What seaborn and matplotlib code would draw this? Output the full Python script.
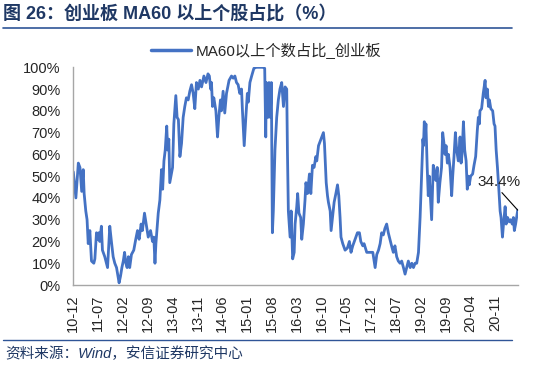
import matplotlib
matplotlib.use("Agg")
import matplotlib.pyplot as plt
from matplotlib.lines import Line2D
import pandas as pd
import seaborn as sns

# 创业板 MA60 以上个股占比 (%)
dates = [
    "2010-12-01", "2010-12-23", "2011-01-13", "2011-01-27", "2011-02-11", "2011-02-24",
    "2011-03-04", "2011-03-18", "2011-03-29", "2011-04-08", "2011-04-22", "2011-04-28",
    "2011-05-06", "2011-05-26", "2011-06-04", "2011-06-18", "2011-06-26", "2011-07-08",
    "2011-07-16", "2011-07-30", "2011-08-08", "2011-08-28", "2011-09-21", "2011-09-29",
    "2011-10-10", "2011-10-24", "2011-11-08", "2011-11-22", "2011-12-07", "2011-12-29",
    "2012-01-10", "2012-01-22", "2012-02-03", "2012-02-14", "2012-02-25", "2012-03-07",
    "2012-03-18", "2012-03-29", "2012-04-13", "2012-05-03", "2012-05-20", "2012-06-04",
    "2012-06-18", "2012-07-05", "2012-07-16", "2012-08-03", "2012-08-20", "2012-09-04",
    "2012-09-24", "2012-10-11", "2012-10-22", "2012-11-01", "2012-11-09", "2012-11-29",
    "2012-12-13", "2012-12-27", "2013-01-06", "2013-01-17", "2013-01-28", "2013-02-10",
    "2013-02-18", "2013-02-28", "2013-03-08", "2013-03-22", "2013-04-01", "2013-04-12",
    "2013-04-29", "2013-05-10", "2013-05-21", "2013-06-03", "2013-06-17", "2013-07-01",
    "2013-07-15", "2013-07-29", "2013-08-13", "2013-08-27", "2013-09-11", "2013-09-25",
    "2013-10-09", "2013-10-23", "2013-11-08", "2013-11-22", "2013-12-06", "2013-12-26",
    "2014-01-13", "2014-01-30", "2014-02-11", "2014-02-22", "2014-03-01", "2014-03-10",
    "2014-03-21", "2014-04-08", "2014-04-22", "2014-05-03", "2014-05-17", "2014-05-25",
    "2014-06-09", "2014-06-23", "2014-07-08", "2014-07-30", "2014-08-20", "2014-09-04",
    "2014-09-18", "2014-10-02", "2014-10-16", "2014-10-30", "2014-11-14", "2014-11-22",
    "2014-12-07", "2014-12-21", "2015-01-03", "2015-01-11", "2015-01-25", "2015-02-09",
    "2015-02-28", "2015-03-21", "2015-04-19", "2015-05-17", "2015-06-01", "2015-06-10",
    "2015-06-15", "2015-06-29", "2015-07-08", "2015-07-19", "2015-07-28", "2015-08-06",
    "2015-08-14", "2015-08-28", "2015-09-12", "2015-09-26", "2015-10-10", "2015-10-25",
    "2015-11-09", "2015-11-23", "2015-12-07", "2015-12-13", "2015-12-21", "2016-01-05",
    "2016-01-14", "2016-01-27", "2016-02-09", "2016-02-17", "2016-03-02", "2016-03-10",
    "2016-03-21", "2016-04-05", "2016-04-14", "2016-04-28", "2016-05-12", "2016-05-20",
    "2016-06-02", "2016-06-19", "2016-07-01", "2016-07-15", "2016-07-29", "2016-08-13",
    "2016-08-21", "2016-09-05", "2016-09-19", "2016-10-03", "2016-10-17", "2016-10-26",
    "2016-11-10", "2016-11-21", "2016-11-29", "2016-12-14", "2016-12-22", "2017-01-03",
    "2017-01-17", "2017-02-01", "2017-02-15", "2017-02-26", "2017-03-09", "2017-03-17",
    "2017-04-01", "2017-04-21", "2017-05-11", "2017-05-28", "2017-06-11", "2017-06-26",
    "2017-07-16", "2017-08-05", "2017-08-22", "2017-09-03", "2017-09-20", "2017-10-01",
    "2017-10-24", "2017-11-22", "2017-12-15", "2018-01-04", "2018-01-18", "2018-02-02",
    "2018-02-16", "2018-03-01", "2018-03-15", "2018-03-29", "2018-04-13", "2018-04-27",
    "2018-05-11", "2018-05-25", "2018-06-09", "2018-06-23", "2018-07-08", "2018-07-22",
    "2018-08-06", "2018-08-20", "2018-09-04", "2018-09-18", "2018-10-02", "2018-10-16",
    "2018-11-01", "2018-11-15", "2018-11-29", "2018-12-13", "2018-12-27", "2019-01-11",
    "2019-01-25", "2019-02-09", "2019-02-18", "2019-02-23", "2019-03-02", "2019-03-10",
    "2019-03-16", "2019-03-27", "2019-04-05", "2019-04-14", "2019-04-25", "2019-05-04",
    "2019-05-12", "2019-05-18", "2019-06-02", "2019-06-10", "2019-06-21", "2019-06-30",
    "2019-07-14", "2019-07-28", "2019-08-07", "2019-08-18", "2019-08-27", "2019-09-05",
    "2019-09-16", "2019-09-25", "2019-10-09", "2019-10-23", "2019-11-01", "2019-11-12",
    "2019-11-24", "2019-12-05", "2019-12-19", "2020-01-03", "2020-01-12", "2020-01-20",
    "2020-02-01", "2020-02-12", "2020-02-24", "2020-03-05", "2020-03-14", "2020-03-22",
    "2020-04-03", "2020-04-20", "2020-05-02", "2020-05-16", "2020-05-30", "2020-06-08",
    "2020-06-17", "2020-06-22", "2020-07-06", "2020-07-20", "2020-08-05", "2020-08-13",
    "2020-08-24", "2020-09-03", "2020-09-11", "2020-09-23", "2020-10-09", "2020-10-21",
    "2020-10-29", "2020-11-08", "2020-11-19", "2020-12-01", "2020-12-12", "2020-12-20",
    "2021-01-01", "2021-01-10", "2021-01-24", "2021-02-02", "2021-02-14", "2021-03-01",
    "2021-03-12", "2021-03-26", "2021-04-05", "2021-04-13", "2021-04-24", "2021-05-12",
]
values = [
    52, 40, 56, 54, 43, 53,
    42, 34, 30, 19, 25, 19,
    11, 10, 12, 24, 21, 24,
    20, 27, 16, 13, 8, 16,
    27, 20, 13, 10, 8, 1,
    4, 8, 11, 15, 10, 8,
    13, 8, 14, 16, 21, 25,
    21, 28, 25, 33, 27, 22,
    25, 20, 22, 10, 19, 33,
    39, 53, 44, 57, 62, 73,
    62, 67, 47, 51, 54, 74,
    87, 77, 76, 59, 65, 77,
    82, 86, 85, 89, 92, 88,
    81, 93, 90, 94, 91, 96,
    93, 97, 96, 90, 93, 82,
    86, 80, 68, 77, 85, 80,
    89, 79, 88, 94, 96, 95,
    96, 93, 92, 88, 90, 80,
    64, 77, 88, 84, 93, 96,
    99.5, 100, 100, 100, 99.5, 68,
    93, 77, 93, 77, 93, 24,
    34, 62, 77, 85, 90, 93,
    82, 91, 90, 62, 34, 22,
    34, 12, 15, 28, 36, 42,
    33, 31, 21, 28, 39, 47,
    42, 51, 42, 55, 54, 59,
    57, 64, 66, 68, 70, 65,
    47, 41, 38, 34, 25, 31,
    38, 42, 46, 41, 31, 22,
    19, 16, 17, 20, 15, 18,
    21, 24, 24, 20, 18, 19,
    15, 15, 15, 8, 14, 16,
    19, 24, 23, 26, 28, 24,
    21, 18, 15, 18, 13, 11,
    10, 11, 8, 5, 8, 11,
    8, 10, 8, 10, 10, 15,
    31, 54, 67, 64, 75, 68,
    74, 54, 41, 50, 39, 30,
    44, 55, 50, 48, 54, 38,
    47, 54, 70, 65, 60, 64,
    56, 60, 54, 41, 50, 59,
    70, 62, 57, 68, 56, 60,
    75, 62, 57, 44, 50, 46,
    50, 51, 55, 59, 71, 77,
    74, 80, 81, 88, 94, 86,
    90, 82, 85, 81, 80, 74,
    73, 62, 54, 44, 34, 31,
    22, 28, 36, 28, 31, 29,
    30, 28, 31, 25, 28, 34.4,
]
tick_labels = ["10-12", "11-07", "12-02", "12-09", "13-04", "13-11", "14-06", "15-01", "15-08",
               "16-03", "16-10", "17-05", "17-12", "18-07", "19-02", "19-09", "20-04", "20-11"]
y_ticks = [0, 10, 20, 30, 40, 50, 60, 70, 80, 90, 100]
series_name = "MA60以上个数占比_创业板"
title = "图 26：创业板 MA60 以上个股占比（%）"
source = "资料来源：Wind，安信证券研究中心"

df = pd.DataFrame({"date": pd.to_datetime(dates), "value": values})

sns.set_style("white")
fonts = ["Liberation Sans", "Noto Sans CJK SC", "DejaVu Sans"]
plt.rcParams["font.family"] = fonts

line_color = "#4472C4"
axis_color = "#A6A6A6"
navy = "#1F3864"

fig = plt.figure(figsize=(5.5, 3.71), dpi=100)
ax = fig.add_axes([0.1333, 0.2318, 0.808, 0.5868])

sns.lineplot(data=df, x="date", y="value", ax=ax, color=line_color, linewidth=2.0, label=series_name)

ax.set_ylim(0, 100)
ax.set_xlim(df["date"].iloc[0], df["date"].iloc[-1])
ax.set_yticks(y_ticks)
ax.set_yticklabels([f"{v}%" for v in y_ticks])
tick_dates = pd.to_datetime(["20" + t + "-01" for t in tick_labels])
ax.set_xticks(tick_dates)
ax.set_xticklabels(tick_labels, rotation=90)
ax.set_xlabel("")
ax.set_ylabel("")

for side in ["top", "right"]:
    ax.spines[side].set_visible(False)
for side in ["left", "bottom"]:
    ax.spines[side].set_color(axis_color)
    ax.spines[side].set_linewidth(1.0)
ax.tick_params(axis="y", direction="in", length=3, width=1, color=axis_color, pad=9, labelsize=10.5)
ax.tick_params(axis="x", direction="in", length=3.5, width=1, color=axis_color, pad=7, labelsize=10.5)

# last value label
ax.annotate("34.4%", xy=(df["date"].iloc[-1], values[-1]), xytext=(-13.5, 20),
            textcoords="offset points", ha="center", va="center", fontsize=11,
            arrowprops=dict(arrowstyle="-", color="black", lw=0.8, shrinkA=0, shrinkB=0,
                            relpos=(0.5, 0)))

leg = ax.legend(loc="center", bbox_to_anchor=(0.4836, 0.8633), bbox_transform=fig.transFigure,
                frameon=False, fontsize=11, handlelength=2.6, handletextpad=0.3)
for h in leg.get_lines():
    h.set_linewidth(2.5)

fig.text(0.0055, 0.9636, title, fontsize=13, fontweight="bold", color=navy, va="center", ha="left",
         family=fonts)
fig.add_artist(Line2D([0.0055, 0.931], [0.9253, 0.9253], transform=fig.transFigure,
                      color="#2F5597", linewidth=1.2))
fig.add_artist(Line2D([0.0055, 0.931], [0.0836, 0.0836], transform=fig.transFigure,
                      color="#2F5597", linewidth=1.0))
fig.text(0.009, 0.0458, source, fontsize=10.5, style="italic", color=navy, va="center", ha="left",
         family=fonts)

fig.savefig("out.png", dpi=100)
